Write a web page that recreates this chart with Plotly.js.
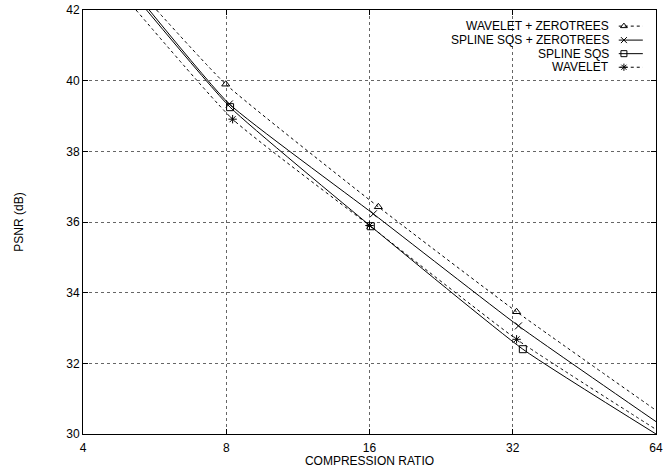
<!DOCTYPE html>
<html>
<head>
<meta charset="utf-8">
<script src="https://cdn.plot.ly/plotly-3.0.1.min.js"></script>
<style>html,body{margin:0;padding:0;background:#fff}#chart{width:667px;height:468px}</style>
</head>
<body>
<div id="chart"></div>
<script>
// Series names (legend order)
const seriesNames = ["WAVELET + ZEROTREES", "SPLINE SQS + ZEROTREES", "SPLINE SQS", "WAVELET"];
// Curve points (compression ratio, PSNR dB)
const wzX = [5.71, 7.98, 16.7, 32.6, 64];
const wzY = [42.0, 39.90, 36.43, 33.46, 30.67];
const szX = [5.51, 8.12, 16.3, 32.9, 64];
const szY = [42.0, 39.34, 36.23, 33.06, 30.35];
const sX  = [5.44, 8.15, 16.1, 33.6, 64];
const sY  = [42.0, 39.25, 35.88, 32.40, 30.00];
const wX  = [5.17, 8.25, 16.0, 32.6, 64];
const wY  = [42.0, 38.91, 35.90, 32.68, 30.13];
// Which curve points carry a marker
const markerIdx = [1, 2, 3];
// Axis ticks
const xTicks = [4, 8, 16, 32, 64];
const xTickText = ["4", "8", "16", "32", "64"];
const yTicks = [30, 32, 34, 36, 38, 40, 42];

const FONT = "Liberation Sans, Arial, Helvetica, sans-serif";
const FS = 12;
const styles = [
  {dash: "3px,3px", symbol: "triangle-up-open"},
  {dash: "solid", symbol: "x-thin-open"},
  {dash: "solid", symbol: "square-open"},
  {dash: "3px,3px", symbol: "asterisk-open"}
];
const data = [[wzX, wzY], [szX, szY], [sX, sY], [wX, wY]];

const traces = [];
data.forEach((d, i) => {
  traces.push({
    x: d[0], y: d[1], mode: "lines", type: "scatter", showlegend: false,
    line: {color: "#000", width: 1, dash: styles[i].dash, shape: "spline", smoothing: 0.45},
    hoverinfo: "skip"
  });
  traces.push({
    x: markerIdx.map(k => d[0][k]), y: markerIdx.map(k => d[1][k]),
    mode: "markers", type: "scatter", showlegend: false, cliponaxis: false,
    marker: {symbol: styles[i].symbol, size: 7, color: "#000", line: {color: "#000", width: 1}}
  });
});

// Custom legend (text right-aligned, sample on the right) drawn on hidden overlay axes
const legX0 = 0.935, legX1 = 0.977, legTextX = 0.922;
const legY = [0.962, 0.929, 0.897, 0.865];
const annotations = [];
seriesNames.forEach((name, i) => {
  traces.push({
    x: [legX0, legX1], y: [legY[i], legY[i]], xaxis: "x2", yaxis: "y2",
    mode: "lines", type: "scatter", showlegend: false, hoverinfo: "skip",
    line: {color: "#000", width: 1, dash: styles[i].dash}
  });
  traces.push({
    x: [(legX0 + legX1) / 2 - 0.012], y: [legY[i]], xaxis: "x2", yaxis: "y2",
    mode: "markers", type: "scatter", showlegend: false, hoverinfo: "skip",
    marker: {symbol: styles[i].symbol, size: 6, color: "#000", line: {color: "#000", width: 1}}
  });
  annotations.push({
    text: name, xref: "paper", yref: "paper", x: legTextX, y: legY[i],
    xanchor: "right", yanchor: "middle", showarrow: false,
    font: {family: FONT, size: FS, color: "#000"}
  });
});

const layout = {
  width: 667, height: 468,
  margin: {l: 83, r: 11, t: 10, b: 34},
  paper_bgcolor: "#fff", plot_bgcolor: "#fff",
  font: {family: FONT, size: FS, color: "#000"},
  showlegend: false,
  xaxis: {
    type: "log", range: [Math.log10(4), Math.log10(64)],
    tickvals: xTicks, ticktext: xTickText,
    ticks: "inside", ticklen: 5, tickcolor: "#000", tickwidth: 1,
    ticklabelstandoff: 3,
    showline: true, linecolor: "#000", linewidth: 1, mirror: "ticks",
    showgrid: true, gridcolor: "#666", griddash: "dot", gridwidth: 1,
    zeroline: false,
    title: {text: "COMPRESSION RATIO", standoff: 0, font: {family: FONT, size: FS}},
    tickfont: {family: FONT, size: FS}
  },
  yaxis: {
    range: [30, 42], tickvals: yTicks,
    ticks: "inside", ticklen: 5, tickcolor: "#000", tickwidth: 1,
    showline: true, linecolor: "#000", linewidth: 1, mirror: "ticks",
    showgrid: true, gridcolor: "#666", griddash: "dot", gridwidth: 1,
    zeroline: false,
    title: {text: "PSNR (dB)", standoff: 40, font: {family: FONT, size: FS}},
    tickfont: {family: FONT, size: FS}
  },
  xaxis2: {overlaying: "x", anchor: "y2", range: [0, 1], visible: false, fixedrange: true},
  yaxis2: {overlaying: "y", anchor: "x2", range: [0, 1], visible: false, fixedrange: true},
  annotations: annotations
};

Plotly.newPlot("chart", traces, layout, {staticPlot: true, displayModeBar: false});
</script>
</body>
</html>
